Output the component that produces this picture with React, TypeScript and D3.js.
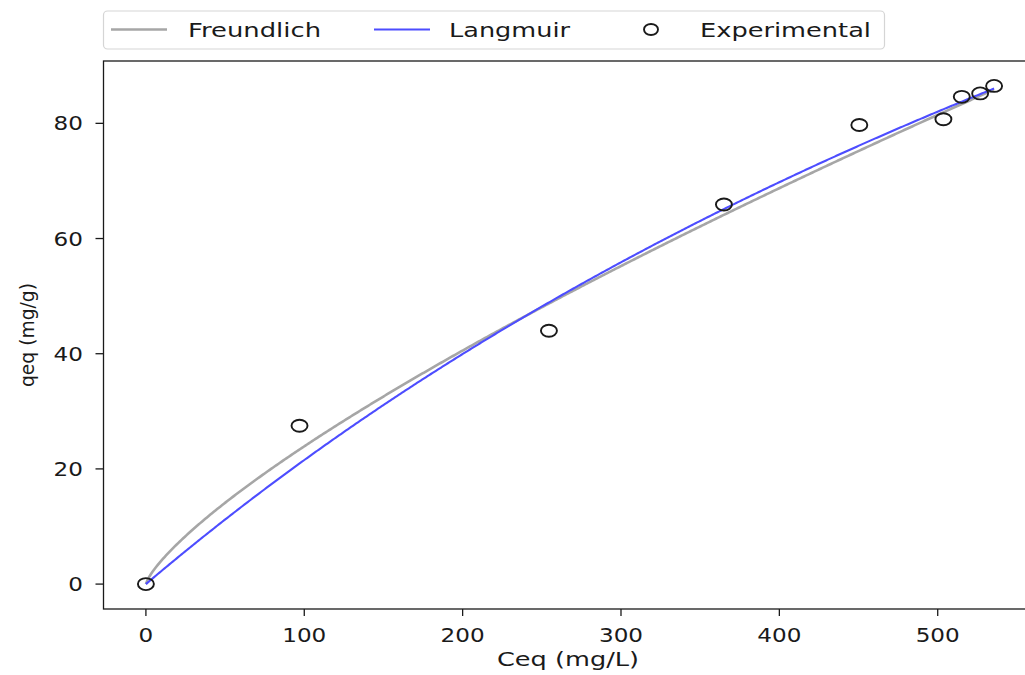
import React from "react";
import * as d3 from "d3";

// Equilibrium concentration (mg/L) and adsorbed amount (mg/g)
const ceq = [0, 97, 254.5, 365, 450.5, 503.6, 515.2, 526.8, 535.6];
const qeq = [0, 27.5, 44.0, 65.9, 79.7, 80.7, 84.6, 85.2, 86.5];

// Fitted isotherm parameters
const freundlichK = 0.7174;
const freundlichInvN = 0.7615;
const langmuirQmax = 275.5;
const langmuirB = 0.000848;

const xTicks = [0, 100, 200, 300, 400, 500];
const yTicks = [0, 20, 40, 60, 80];

const legendItems = ["Freundlich", "Langmuir", "Experimental"];

const W = 1025;
const H = 675;
const FONT = "'DejaVu Sans', sans-serif";
const INK = "#1a1a1a";
const GRAY = "#a6a6a6";
const BLUE = "#4d4dff";

const plot = { left: 103.5, right: 1036.5, top: 61, bottom: 609 };

export default function App() {
  const [cMin, cMax] = d3.extent(ceq) as [number, number];
  const [qMin, qMax] = d3.extent(qeq) as [number, number];
  const xm = (cMax - cMin) * 0.05;
  const ym = (qMax - qMin) * 0.05;

  const x = d3.scaleLinear().domain([cMin - xm, cMax + xm]).range([plot.left, plot.right]);
  const y = d3.scaleLinear().domain([qMin - ym, qMax + ym]).range([plot.bottom, plot.top]);

  const cGrid = d3.range(0, 501).map((i) => (cMax * i) / 500);
  const freundlich = cGrid.map((c) => [c, freundlichK * Math.pow(c, freundlichInvN)] as [number, number]);
  const langmuir = cGrid.map(
    (c) => [c, (langmuirQmax * langmuirB * c) / (1 + langmuirB * c)] as [number, number]
  );

  const line = d3
    .line<[number, number]>()
    .x((d) => x(d[0]))
    .y((d) => y(d[1]));

  const digitW = 14.7;

  return (
    <svg
      width={W}
      height={H}
      style={{ position: "absolute", left: 0, top: 0, background: "#fff" }}
    >
      <rect x={0} y={0} width={W} height={H} fill="#fff" />

      <defs>
        <clipPath id="plotClip">
          <rect x={plot.left} y={plot.top} width={plot.right - plot.left} height={plot.bottom - plot.top} />
        </clipPath>
      </defs>

      {/* fitted curves */}
      <g clipPath="url(#plotClip)">
        <path d={line(freundlich) || ""} fill="none" stroke={GRAY} strokeWidth={2.6} />
        <path d={line(langmuir) || ""} fill="none" stroke={BLUE} strokeWidth={2.1} />
        {ceq.map((c, i) => (
          <ellipse
            key={i}
            cx={x(c)}
            cy={y(qeq[i])}
            rx={8}
            ry={6}
            fill="none"
            stroke={INK}
            strokeWidth={1.9}
          />
        ))}
      </g>

      {/* axes frame */}
      <rect
        x={plot.left}
        y={plot.top}
        width={plot.right - plot.left}
        height={plot.bottom - plot.top}
        fill="none"
        stroke={INK}
        strokeWidth={1.3}
      />

      {/* x axis ticks */}
      {xTicks.map((t) => (
        <g key={"x" + t}>
          <line x1={x(t)} x2={x(t)} y1={plot.bottom} y2={plot.bottom + 7} stroke={INK} strokeWidth={1.3} />
          <text
            x={x(t)}
            y={642}
            textAnchor="middle"
            fontFamily={FONT}
            fontSize={19.5}
            fill={INK}
            textLength={String(t).length * digitW}
            lengthAdjust="spacingAndGlyphs"
          >
            {t}
          </text>
        </g>
      ))}

      {/* y axis ticks */}
      {yTicks.map((t) => (
        <g key={"y" + t}>
          <line x1={plot.left - 8} x2={plot.left} y1={y(t)} y2={y(t)} stroke={INK} strokeWidth={1.3} />
          <text
            x={83}
            y={y(t) + 7}
            textAnchor="end"
            fontFamily={FONT}
            fontSize={19.5}
            fill={INK}
            textLength={String(t).length * digitW}
            lengthAdjust="spacingAndGlyphs"
          >
            {t}
          </text>
        </g>
      ))}

      {/* axis labels */}
      <text
        x={(plot.left + plot.right) / 2 - 2}
        y={666}
        textAnchor="middle"
        fontFamily={FONT}
        fontSize={20}
        fill={INK}
        textLength={142}
        lengthAdjust="spacingAndGlyphs"
      >
        Ceq (mg/L)
      </text>
      <text
        transform={`translate(34, ${(plot.top + plot.bottom) / 2}) rotate(-90)`}
        textAnchor="middle"
        fontFamily={FONT}
        fontSize={19}
        fill={INK}
        textLength={104}
        lengthAdjust="spacingAndGlyphs"
      >
        qeq (mg/g)
      </text>

      {/* legend */}
      <g>
        <rect x={103.5} y={11} width={781} height={38} rx={4} fill="#fff" fillOpacity={0.8} stroke="#d5d5d5" strokeWidth={1.2} />
        <line x1={111} x2={167} y1={29.5} y2={29.5} stroke={GRAY} strokeWidth={2.6} />
        <text x={188} y={37} fontFamily={FONT} fontSize={20} fill={INK} textLength={133} lengthAdjust="spacingAndGlyphs">
          {legendItems[0]}
        </text>
        <line x1={374} x2={430} y1={29.5} y2={29.5} stroke={BLUE} strokeWidth={2.1} />
        <text x={449} y={37} fontFamily={FONT} fontSize={20} fill={INK} textLength={121} lengthAdjust="spacingAndGlyphs">
          {legendItems[1]}
        </text>
        <ellipse cx={651} cy={29.5} rx={7} ry={5.5} fill="none" stroke={INK} strokeWidth={1.9} />
        <text x={700} y={37} fontFamily={FONT} fontSize={20} fill={INK} textLength={171} lengthAdjust="spacingAndGlyphs">
          {legendItems[2]}
        </text>
      </g>
    </svg>
  );
}
